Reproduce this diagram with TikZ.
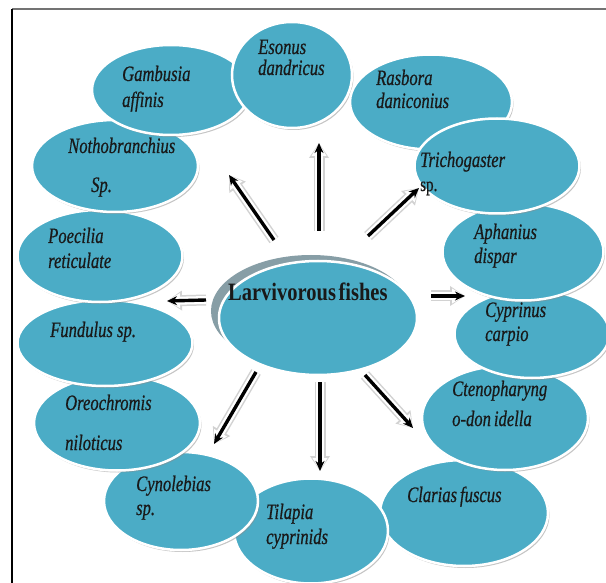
\documentclass[tikz,border=0pt]{standalone}
\usepackage{fontspec}
\setmainfont{Liberation Serif}
\newfontfamily\fishfont[FakeStretch=0.755,FakeBold=0.6]{Liberation Serif}
\newfontfamily\titlefont[FakeStretch=0.82]{Liberation Serif}
\usetikzlibrary{shapes.geometric,shadows,arrows.meta}
\definecolor{fishblue}{RGB}{75,172,198}
\definecolor{rimshade}{RGB}{135,158,166}
\tikzset{
  fish/.style={ellipse, fill=fishblue, draw=white, line width=2.5pt, inner sep=0pt,
    drop shadow={shadow xshift=1.5pt, shadow yshift=-2pt, fill=black!45, opacity=0.5}},
  lbl/.style={anchor=base west, inner sep=0pt, font=\fishfont\fontsize{22}{24}\selectfont\itshape, text=black!90},
  lblup/.style={anchor=base west, inner sep=0pt, font=\fishfont\fontsize{20}{22}\selectfont, text=black!90},
  arr/.style={line width=3.4pt, black, -{Stealth[length=10pt,width=9pt]},
    preaction={draw=gray!35, line width=11pt, -{Triangle[length=15pt,width=19pt]}},
    preaction={draw=white, line width=8pt, -{Triangle[length=13pt,width=14pt]}}},
}
\begin{document}
\begin{tikzpicture}[x=1pt,y=-1pt]
\useasboundingbox (0,0) rectangle (606,583);
\fill[white] (0,0) rectangle (606,583);
% frame
\draw[black!55, line width=1.6pt] (12,9) -- (606,9);
\draw[black, line width=1.6pt] (12,9) -- (12,583);

% ellipses (drawing order matters)
\node[fish, minimum width=168pt, minimum height=106pt] (clarias) at (464,513) {};
\node[fish, minimum width=154pt, minimum height=105pt] (tilapia) at (311,531) {};
\node[fish, minimum width=154pt, minimum height=98pt] (cyno) at (181,501) {};
\node[fish, minimum width=166pt, minimum height=95pt] (oreo) at (117,423) {};
\node[fish, minimum width=175pt, minimum height=86pt] (fund) at (105,343) {};
\node[fish, minimum width=165pt, minimum height=92pt] (poec) at (100,256) {};
\node[fish, minimum width=166pt, minimum height=92pt] (notho) at (115,166) {};
\node[fish, minimum width=158pt, minimum height=90pt] (gamb) at (171,90) {};
\node[fish, minimum width=120pt, minimum height=106pt] (eson) at (292,75) {};
\node[fish, minimum width=162pt, minimum height=95pt] (rasb) at (431,102) {};
\node[fish, minimum width=166pt, minimum height=104pt] (cteno) at (505,418) {};
\node[fish, minimum width=155pt, minimum height=88pt] (cypr) at (532,334) {};
\node[fish, minimum width=161pt, minimum height=97pt] (aphan) at (523,252) {};
\node[fish, minimum width=165pt, minimum height=95pt] (trich) at (497,166) {};

% centre
\node[ellipse, fill=rimshade, inner sep=0pt, minimum width=200pt, minimum height=112pt] (cshade) at (311,311) {};
\node[ellipse, fill=fishblue, draw=white, line width=2.5pt, inner sep=0pt, minimum width=198pt, minimum height=114pt] (centre) at (318,318) {};
\node[anchor=base west, inner sep=0pt, font=\titlefont\fontsize{25}{27}\selectfont\bfseries, text=black!90] (ctext) at (228,301) {Larvivorous\hspace{2.5pt}fishes};

% labels
\node[lbl] (t1a) at (258,54) {Esonus};
\node[lbl] (t1b) at (258,75) {dandricus};
\node[lbl] (t2a) at (122,81) {Gambusia};
\node[lbl] (t2b) at (122,107) {affinis};
\node[lbl] (t3a) at (376,85) {Rasbora};
\node[lbl] (t3b) at (376,108) {daniconius};
\node[lbl] (t4a) at (68,153) {Nothobranchius};
\node[lbl] (t4b) at (91,192) {Sp.};
\node[lbl] (t5a) at (420,167) {Trichogaster};
\node[lblup] (t5b) at (420,191) {sp.};
\node[lbl] (t6a) at (48,243) {Poecilia};
\node[lbl] (t6b) at (48,268) {reticulate};
\node[lbl] (t7a) at (474,239) {Aphanius};
\node[lbl] (t7b) at (474,263) {dispar};
\node[lbl] (t8a) at (50,337) {Fundulus sp.};
\node[lbl] (t9a) at (485,317) {Cyprinus};
\node[lbl] (t9b) at (485,341) {carpio};
\node[lbl] (t10a) at (65,410) {Oreochromis};
\node[lbl] (t10b) at (65,450) {niloticus};
\node[lbl] (t11a) at (452,396) {Ctenopharyng};
\node[lbl] (t11b) at (452,426) {o-don\hspace{3pt}idella};
\node[lbl] (t12a) at (136,491) {Cynolebias};
\node[lbl] (t12b) at (136,515) {sp.};
\node[lbl] (t13a) at (266,519) {Tilapia};
\node[lbl] (t13b) at (266,544) {cyprinids};
\node[lbl] (t14a) at (407,502) {Clarias\hspace{3pt}fuscus};

% arrow end points
\coordinate (s1) at (319,231); \coordinate (e1) at (319,143);
\coordinate (s2) at (274,240); \coordinate (e2) at (229,175);
\coordinate (s3) at (368,236); \coordinate (e3) at (419,188);
\coordinate (s4) at (206,300); \coordinate (e4) at (167,301);
\coordinate (s5) at (431,296); \coordinate (e5) at (465,296);
\coordinate (s6) at (256,372); \coordinate (e6) at (214,444);
\coordinate (s7) at (320,382); \coordinate (e7) at (320,471);
\coordinate (s8) at (365,375); \coordinate (e8) at (413,428);

\draw[arr] (s1) -- (e1);
\draw[arr] (s2) -- (e2);
\draw[arr] (s3) -- (e3);
\draw[arr] (s4) -- (e4);
\draw[arr] (s5) -- (e5);
\draw[arr] (s6) -- (e6);
\draw[arr] (s7) -- (e7);
\draw[arr] (s8) -- (e8);
\end{tikzpicture}
\end{document}
